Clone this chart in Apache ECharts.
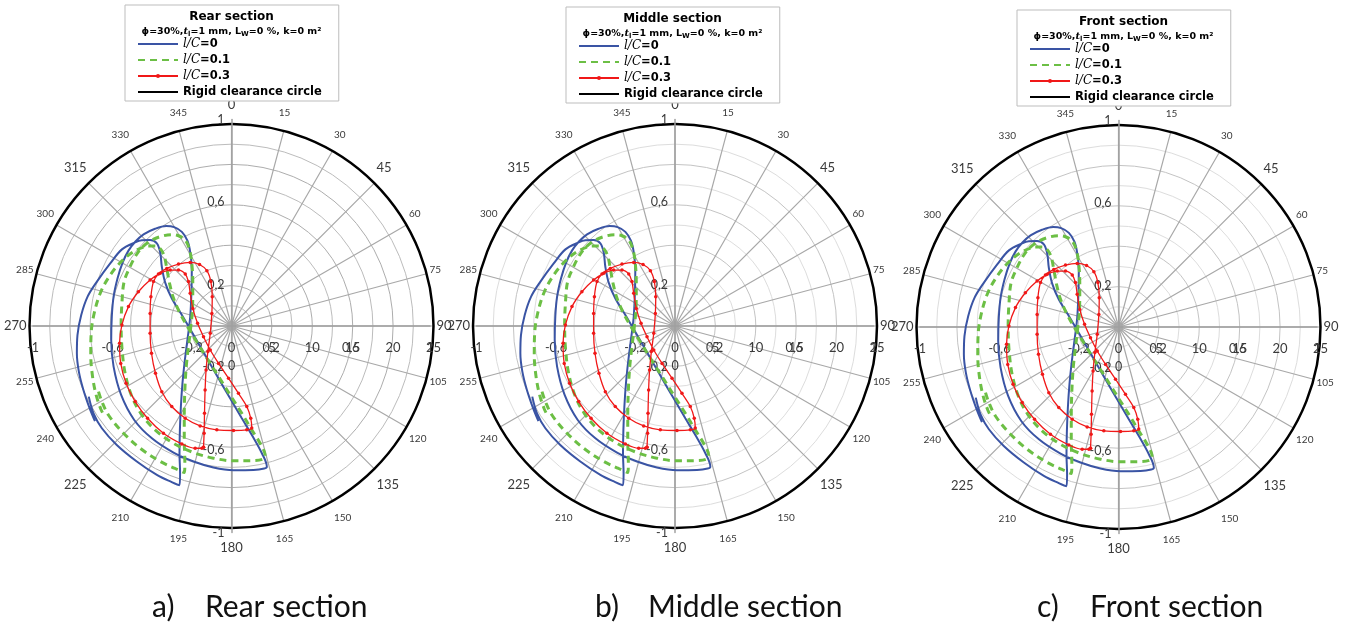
<!DOCTYPE html>
<html>
<head>
<meta charset="utf-8">
<script src="https://cdn.jsdelivr.net/npm/echarts@6/dist/echarts.min.js"></script>
<style>
html,body{margin:0;padding:0;background:#fff;}
#chart{width:1346px;height:631px;}
</style>
</head>
<body>
<div id="chart"></div>
<script>
// ---- data (orbit x/y coordinates; the three sections are identical within reading accuracy) ----
const sectionNames = ['Rear section', 'Middle section', 'Front section'];
const captionLetters = ['a)', 'b)', 'c)'];
const seriesNames = ['l/C=0', 'l/C=0.1', 'l/C=0.3', 'Rigid clearance circle'];

const orbitLC0 = [[-0.719,-0.342],[-0.695,-0.423],[-0.653,-0.495],[-0.578,-0.576],[-0.477,-0.656],[-0.376,-0.721],[-0.301,-0.756],[-0.262,-0.771],[-0.259,-0.713],[-0.262,-0.616],[-0.260,-0.503],[-0.255,-0.390],[-0.247,-0.277],[-0.235,-0.165],[-0.220,-0.052],[-0.208,0.045],[-0.202,0.158],[-0.200,0.271],[-0.207,0.352],[-0.222,0.413],[-0.250,0.456],[-0.289,0.479],[-0.329,0.484],[-0.385,0.471],[-0.443,0.444],[-0.485,0.408],[-0.519,0.365],[-0.549,0.306],[-0.574,0.231],[-0.594,0.142],[-0.603,0.045],[-0.606,-0.068],[-0.594,-0.197],[-0.556,-0.334],[-0.490,-0.455],[-0.401,-0.544],[-0.292,-0.613],[-0.191,-0.656],[-0.091,-0.685],[0.010,-0.698],[0.111,-0.697],[0.165,-0.690],[0.178,-0.681],[0.153,-0.616],[0.107,-0.535],[0.052,-0.447],[-0.007,-0.350],[-0.071,-0.245],[-0.133,-0.140],[-0.191,-0.044],[-0.250,0.053],[-0.301,0.134],[-0.334,0.210],[-0.351,0.287],[-0.359,0.355],[-0.376,0.400],[-0.410,0.416],[-0.452,0.415],[-0.485,0.405],[-0.552,0.371],[-0.611,0.303],[-0.678,0.215],[-0.725,0.142],[-0.757,0.053],[-0.776,-0.044],[-0.779,-0.132],[-0.769,-0.221],[-0.746,-0.310],[-0.715,-0.398],[-0.688,-0.461]];

const orbitLC01 = [[-0.670,-0.318],[-0.653,-0.366],[-0.620,-0.431],[-0.552,-0.511],[-0.460,-0.592],[-0.359,-0.656],[-0.284,-0.690],[-0.238,-0.710],[-0.235,-0.665],[-0.238,-0.552],[-0.238,-0.439],[-0.235,-0.310],[-0.228,-0.197],[-0.217,-0.100],[-0.205,-0.003],[-0.196,0.094],[-0.195,0.206],[-0.200,0.303],[-0.212,0.371],[-0.233,0.416],[-0.267,0.437],[-0.301,0.442],[-0.351,0.435],[-0.401,0.416],[-0.447,0.384],[-0.480,0.344],[-0.511,0.287],[-0.541,0.215],[-0.552,0.110],[-0.556,-0.003],[-0.551,-0.116],[-0.536,-0.229],[-0.505,-0.334],[-0.457,-0.423],[-0.385,-0.503],[-0.292,-0.568],[-0.191,-0.613],[-0.091,-0.640],[0.010,-0.653],[0.111,-0.652],[0.158,-0.645],[0.170,-0.629],[0.144,-0.568],[0.102,-0.503],[0.052,-0.423],[-0.007,-0.334],[-0.065,-0.245],[-0.124,-0.156],[-0.175,-0.076],[-0.217,-0.011],[-0.259,0.061],[-0.292,0.134],[-0.312,0.206],[-0.326,0.279],[-0.338,0.335],[-0.356,0.371],[-0.385,0.387],[-0.418,0.387],[-0.447,0.381],[-0.502,0.355],[-0.561,0.306],[-0.611,0.247],[-0.658,0.166],[-0.690,0.069],[-0.707,-0.035],[-0.709,-0.140],[-0.700,-0.245],[-0.682,-0.334],[-0.658,-0.403],[-0.641,-0.435]];

const orbitLC03 = [[-0.141,-0.587],[-0.138,-0.519],[-0.136,-0.423],[-0.133,-0.310],[-0.128,-0.213],[-0.119,-0.124],[-0.107,-0.035],[-0.099,0.061],[-0.097,0.142],[-0.104,0.215],[-0.124,0.268],[-0.161,0.298],[-0.208,0.308],[-0.267,0.300],[-0.326,0.279],[-0.368,0.252],[-0.393,0.215],[-0.406,0.142],[-0.410,0.061],[-0.410,-0.035],[-0.403,-0.132],[-0.383,-0.229],[-0.351,-0.318],[-0.301,-0.390],[-0.233,-0.447],[-0.158,-0.484],[-0.074,-0.503],[0.010,-0.506],[0.077,-0.503],[0.102,-0.494],[0.097,-0.447],[0.077,-0.390],[0.035,-0.326],[-0.015,-0.253],[-0.065,-0.181],[-0.107,-0.116],[-0.141,-0.052],[-0.171,0.013],[-0.195,0.085],[-0.208,0.158],[-0.217,0.215],[-0.233,0.252],[-0.267,0.271],[-0.309,0.271],[-0.359,0.255],[-0.410,0.223],[-0.469,0.166],[-0.519,0.094],[-0.552,0.005],[-0.564,-0.084],[-0.558,-0.181],[-0.531,-0.277],[-0.485,-0.366],[-0.423,-0.447],[-0.343,-0.519],[-0.250,-0.571],[-0.183,-0.592],[-0.149,-0.592],[-0.141,-0.587]];

const radialTicks = {min: 0, max: 25, interval: 5};
const xyTicks = {min: -1, max: 1, interval: 0.4};
const angleTicks = {min: 90, max: 450, interval: 15};

// ---- layout / style ----
const centers = [[231.5, 326], [675, 326], [1118.5, 327]];
const polarR = 202;
const gridHalfW = 198.5, gridHalfH = 206.5;
const legendPos = [[125, 5], [566, 7], [1017, 10]];
const captionLeft = [152, 595, 1037];
const circleStyles = [
  {major: '#adadad', minor: '#bcbcbc'},
  {major: '#c4c4c4', minor: '#dddddd'},
  {major: '#c4c4c4', minor: '#dddddd'}
];
const FONT = 'Lato, "Open Sans", sans-serif';
const LABEL = '#3a3a3a';

// angle label styles: the reference label ring is slightly taller than wide
const angleRich = {};
for (let d = 0; d < 360; d += 15) {
  const c = Math.cos(d * Math.PI / 180);
  const extra = Math.round(10 * Math.abs(c));
  let padding = 0;
  if (Math.abs(c) >= 0.3) padding = c > 0 ? [0, 0, extra, 0] : [extra, 0, 0, 0];
  else if (Math.abs(c) > 0.01) padding = c > 0 ? [0, 0, 2 * extra, 0] : [2 * extra, 0, 0, 0];
  angleRich['a' + d] = {
    fontSize: d % 45 === 0 ? 13 : 10, color: LABEL, fontFamily: FONT, padding
  };
}

const chart = echarts.init(document.getElementById('chart'));
const dec = v => String(Math.round(v * 10) / 10).replace('.', ',');

const option = {
  backgroundColor: '#fff',
  animation: false,
  polar: [], angleAxis: [], radiusAxis: [],
  grid: [], xAxis: [], yAxis: [],
  title: [], legend: [], series: [], graphic: []
};

const legendData = [
  {name: seriesNames[0], itemStyle: {opacity: 0}},
  {name: seriesNames[1], itemStyle: {opacity: 0}},
  {name: seriesNames[2]},
  {name: seriesNames[3], itemStyle: {opacity: 0}}
];

for (let i = 0; i < 3; i++) {
  const [cx, cy] = centers[i];
  option.polar.push({center: [cx, cy], radius: polarR});
  option.angleAxis.push({
    polarIndex: i, type: 'value',
    min: angleTicks.min, max: angleTicks.max, interval: angleTicks.interval,
    startAngle: 0, clockwise: true,
    axisLine: {lineStyle: {color: '#000', width: 2.5}},
    axisTick: {show: false},
    splitLine: {lineStyle: {color: '#a8a8a8', width: 1.2}},
    axisLabel: {
      margin: 3,
      formatter: v => {
        const d = ((v % 360) + 360) % 360;
        return '{a' + d + '|' + d + '}';
      },
      rich: angleRich
    }
  });
  option.radiusAxis.push({
    polarIndex: i, type: 'value',
    min: radialTicks.min, max: radialTicks.max, interval: radialTicks.interval,
    axisLine: {show: false}, axisTick: {show: false},
    splitLine: {lineStyle: {color: circleStyles[i].major, width: 1}},
    minorTick: {show: false, splitNumber: 2},
    minorSplitLine: {show: true, lineStyle: {color: circleStyles[i].minor, width: 1}},
    axisLabel: {fontSize: 13, color: LABEL, fontFamily: FONT, margin: -15, verticalAlign: 'top'}
  });
  option.grid.push({
    left: cx - gridHalfW, top: cy - gridHalfH,
    width: 2 * gridHalfW, height: 2 * gridHalfH
  });
  option.xAxis.push({
    gridIndex: i, type: 'value', position: 'bottom', offset: -gridHalfH,
    min: xyTicks.min, max: xyTicks.max, interval: xyTicks.interval,
    axisLine: {onZero: false, lineStyle: {color: '#a0a0a0', width: 1.5}},
    axisTick: {show: false}, splitLine: {show: false},
    axisLabel: {formatter: dec, fontSize: 12.5, color: LABEL, fontFamily: FONT, margin: 15}
  });
  option.yAxis.push({
    gridIndex: i, type: 'value', position: 'left', offset: -gridHalfW,
    min: xyTicks.min, max: xyTicks.max, interval: xyTicks.interval,
    axisLine: {onZero: false, lineStyle: {color: '#a0a0a0', width: 1.5}},
    axisTick: {show: false}, splitLine: {show: false},
    axisLabel: {formatter: dec, fontSize: 12.5, color: LABEL, fontFamily: FONT, margin: 7}
  });

  // legend box with header
  const [lx, ly] = legendPos[i];
  option.legend.push({
    left: lx, top: ly, orient: 'vertical',
    data: legendData,
    backgroundColor: '#fff', borderColor: '#bdbdbd', borderWidth: 1,
    padding: [33, 17, 3, 12],
    itemWidth: 40, itemHeight: 5, itemGap: 4,
    selectedMode: false,
    formatter: name => name.indexOf('l/C') === 0
      ? '{i|l/C}{b|' + name.slice(3) + '}'
      : '{b|' + name + '}',
    textStyle: {
      rich: {
        i: {fontStyle: 'italic', fontFamily: '"DejaVu Serif", serif', fontSize: 12, color: '#000'},
        b: {fontWeight: 'bold', fontFamily: '"DejaVu Sans", sans-serif', fontSize: 11.5, color: '#000'}
      }
    }
  });
  option.title.push({
    text: sectionNames[i],
    subtext: 'ϕ=30%,{it|t}{sub|l}=1 mm, L{sub|W}=0 %, k=0 m²',
    left: lx + 106.5, top: ly + 6, textAlign: 'center', padding: 0, itemGap: 2,
    textStyle: {fontSize: 12, fontWeight: 'bold', fontFamily: '"DejaVu Sans", sans-serif', color: '#000'},
    subtextStyle: {
      fontSize: 9.5, fontWeight: 'bold', fontFamily: '"DejaVu Sans", sans-serif', color: '#000', lineHeight: 13,
      rich: {
        it: {fontStyle: 'italic', fontWeight: 'bold', fontSize: 10, fontFamily: '"DejaVu Serif", serif', color: '#000'},
        sub: {fontSize: 7, fontWeight: 'bold', fontFamily: '"DejaVu Sans", sans-serif', color: '#000', verticalAlign: 'bottom', lineHeight: 13}
      }
    }
  });
  // caption under each panel
  option.title.push({
    text: '{p|' + captionLetters[i] + '}{t|' + sectionNames[i] + '}',
    left: captionLeft[i], top: 592, padding: 0,
    textStyle: {
      fontWeight: 'normal',
      rich: {
        p: {fontSize: 30, fontWeight: 'normal', fontFamily: FONT, color: '#111', width: 53},
        t: {fontSize: 30, fontWeight: 'normal', fontFamily: FONT, color: '#111'}
      }
    }
  });

  option.series.push(
    {name: seriesNames[0], type: 'line', xAxisIndex: i, yAxisIndex: i, data: orbitLC0,
     smooth: 0.35, symbol: 'none', lineStyle: {color: '#3a54a4', width: 2}, itemStyle: {color: '#3a54a4'}, z: 3},
    {name: seriesNames[1], type: 'line', xAxisIndex: i, yAxisIndex: i, data: orbitLC01,
     smooth: 0.35, symbol: 'none', lineStyle: {color: '#6cbf45', width: 3, type: [7, 5]}, itemStyle: {color: '#6cbf45'}, z: 4},
    {name: seriesNames[2], type: 'line', xAxisIndex: i, yAxisIndex: i, data: orbitLC03,
     smooth: 0.35, symbol: 'circle', symbolSize: 3.5, showSymbol: true,
     lineStyle: {color: '#f01818', width: 1.3}, itemStyle: {color: '#f01818'}, z: 5},
    {name: seriesNames[3], type: 'line', xAxisIndex: i, yAxisIndex: i, data: [],
     symbol: 'none', lineStyle: {color: '#000', width: 2}, itemStyle: {color: '#000'}}
  );
  option.graphic.push({
    type: 'text', x: cx, y: cy + 40, z: 10,
    style: {text: '0', fontSize: 12.5, fontFamily: FONT, fill: LABEL, align: 'center', verticalAlign: 'middle'}
  });
}

chart.setOption(option);
</script>
</body>
</html>
